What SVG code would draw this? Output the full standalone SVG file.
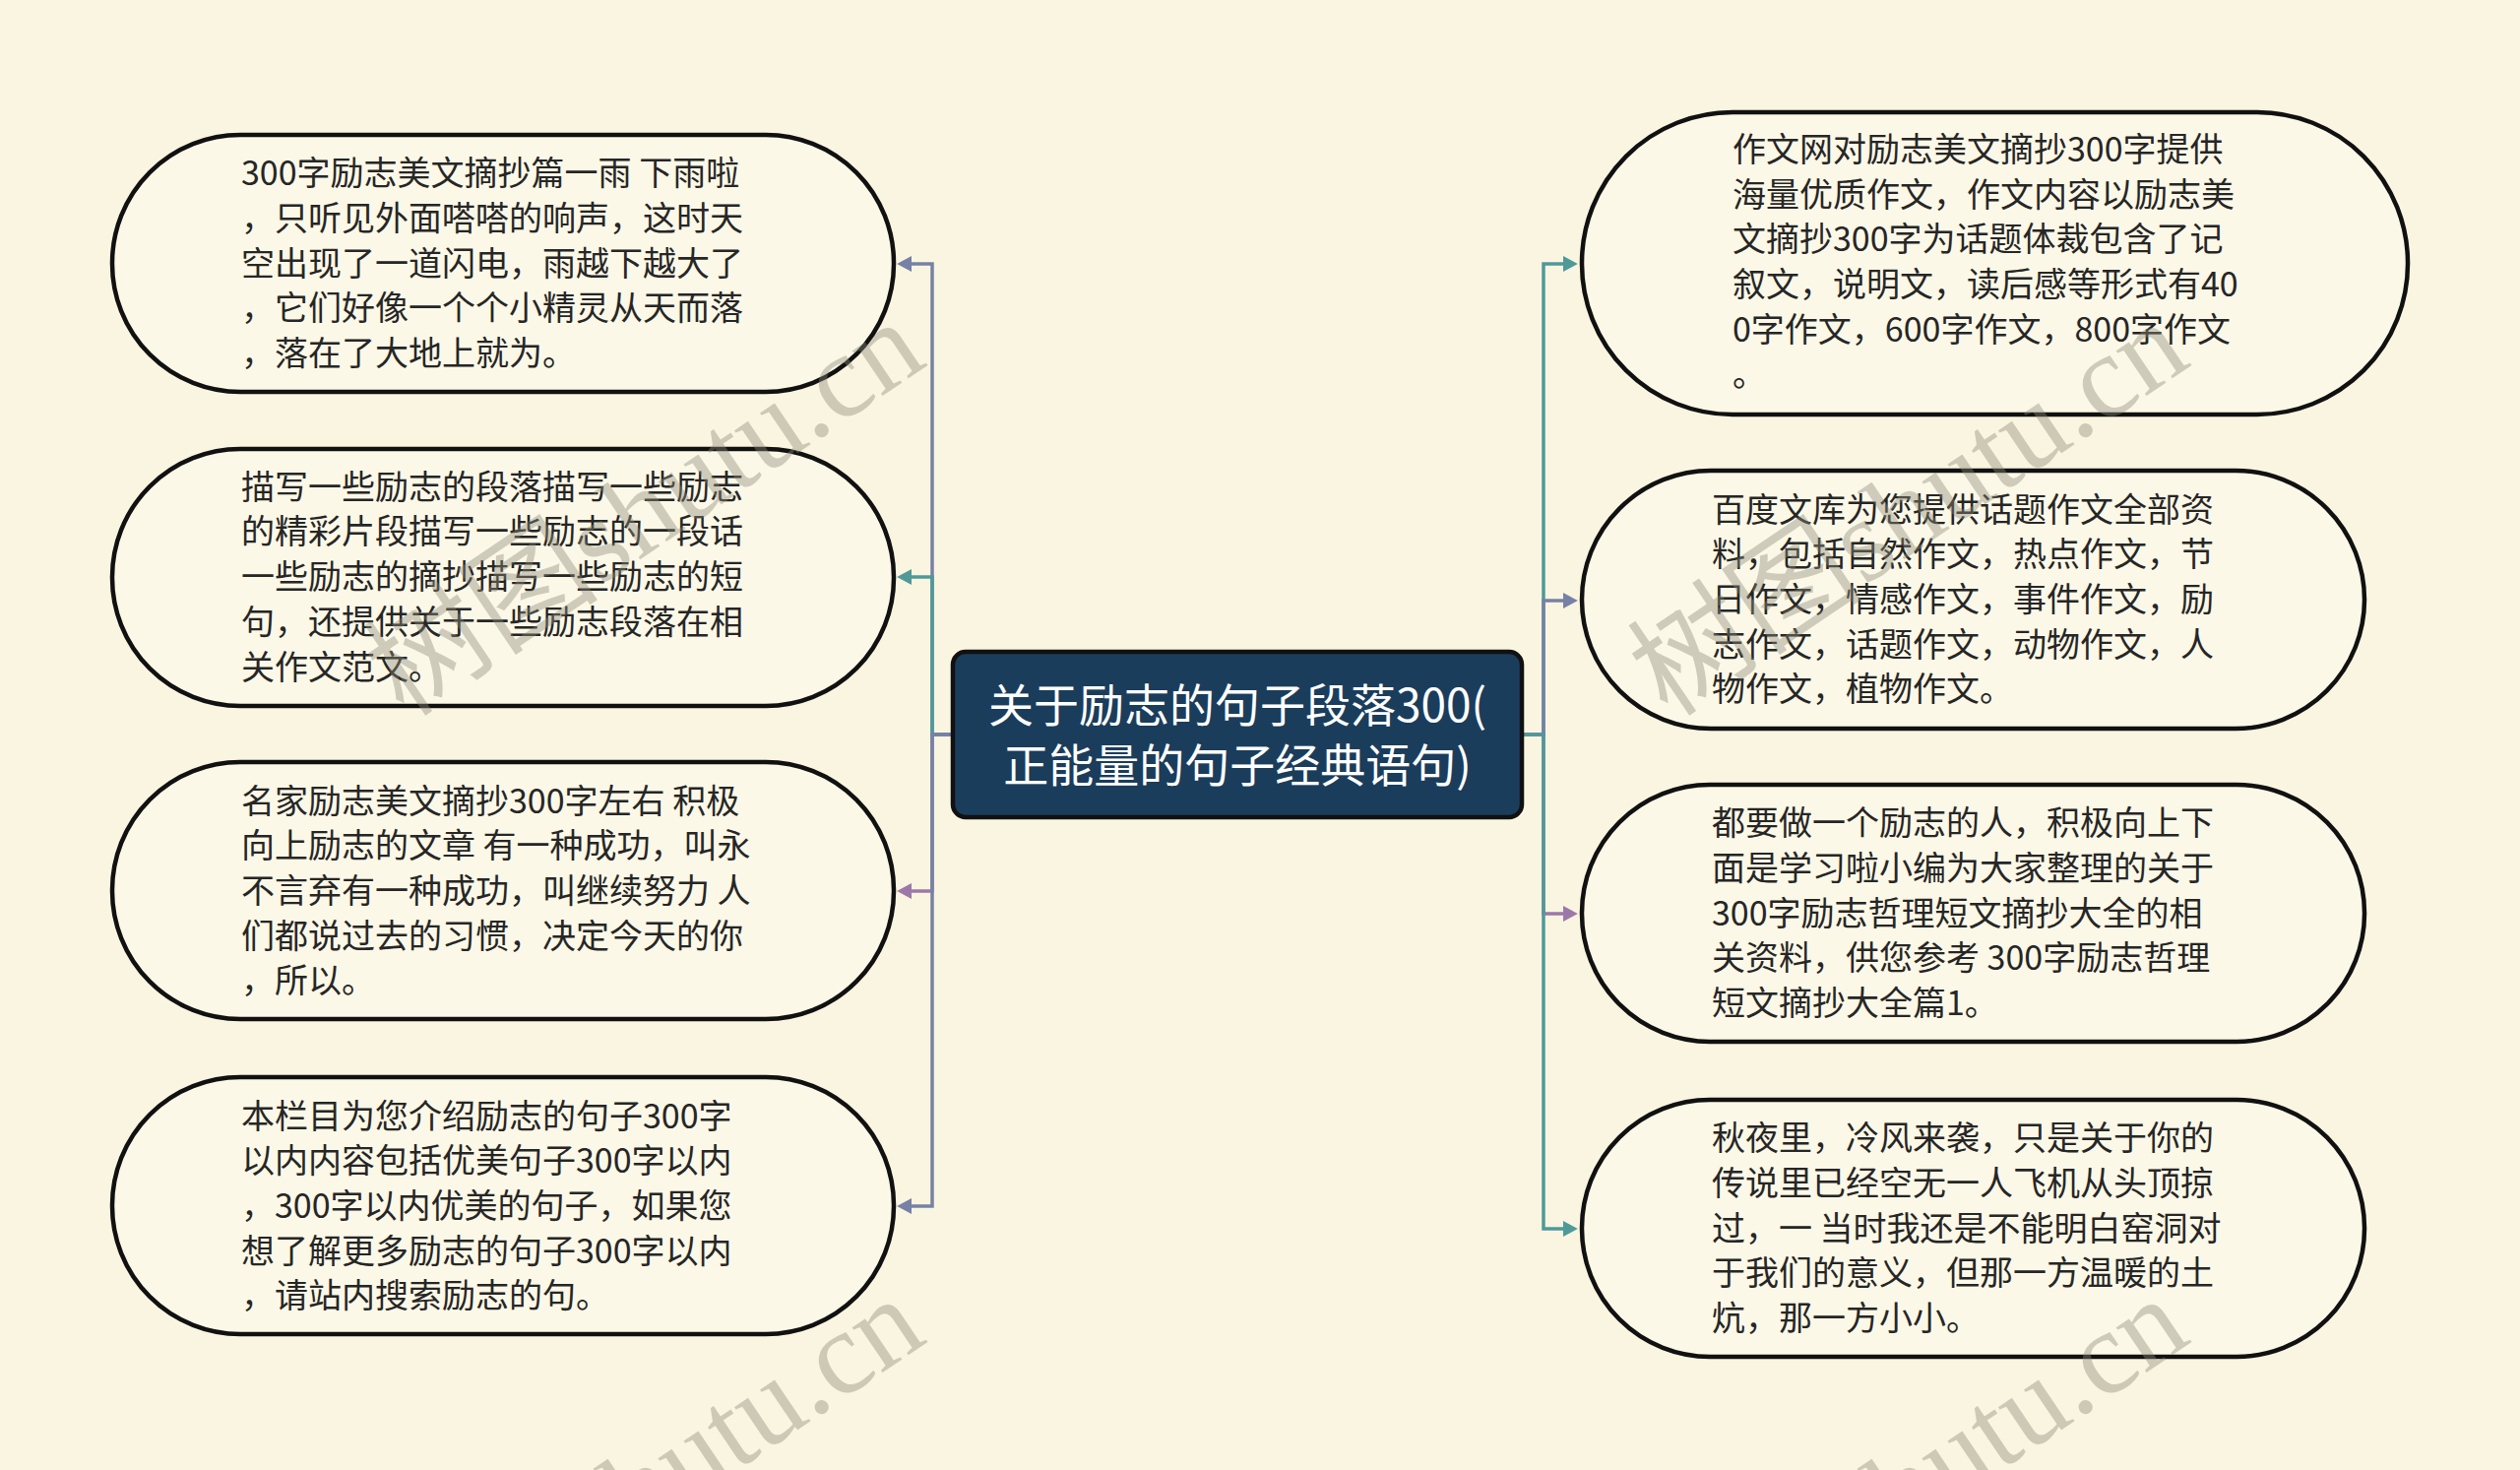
<svg xmlns="http://www.w3.org/2000/svg" width="2560" height="1493" viewBox="0 0 2560 1493">
<defs>
<style>
.bg{fill:#f9f5e1}
.node{fill:#fcf8e7;stroke:#111;stroke-width:4.5}
.root{fill:#1b3d5c;stroke:#111;stroke-width:4.5}
.t{font-family:"Noto Sans CJK SC","Noto Sans",sans-serif;font-size:34px;fill:#262626}
.rt{font-family:"Noto Sans CJK SC","Noto Sans",sans-serif;font-size:46px;fill:#ffffff;text-anchor:middle}
.c{fill:none;stroke-width:3.5}
.gb{stroke:#7682a5}
.tl{stroke:#4f9999}
.pu{stroke:#9c78a8}
.wm{font-family:"Liberation Serif","Noto Sans CJK SC",serif;font-size:120px;fill:#8c8a78;opacity:0.4;text-anchor:end}
</style>
<marker id="aGb" markerUnits="userSpaceOnUse" markerWidth="16" markerHeight="16" refX="0" refY="7" orient="auto" viewBox="0 0 14 14"><path d="M0,0 L13,7 L0,14 z" fill="#7682a5"/></marker>
<marker id="aTl" markerUnits="userSpaceOnUse" markerWidth="16" markerHeight="16" refX="0" refY="7" orient="auto" viewBox="0 0 14 14"><path d="M0,0 L13,7 L0,14 z" fill="#4f9999"/></marker>
<marker id="aPu" markerUnits="userSpaceOnUse" markerWidth="16" markerHeight="16" refX="0" refY="7" orient="auto" viewBox="0 0 14 14"><path d="M0,0 L13,7 L0,14 z" fill="#9c78a8"/></marker>
</defs>
<rect class="bg" x="0" y="0" width="2560" height="1493"/>

<g id="connectors">
<path class="c gb" d="M968 746 H947 V268 H926" marker-end="url(#aGb)"/>
<path class="c tl" d="M968 746 H947 V586 H926" marker-end="url(#aTl)"/>
<path class="c pu" d="M968 746 H947 V905 H926" marker-end="url(#aPu)"/>
<path class="c gb" d="M968 746 H947 V1225 H926" marker-end="url(#aGb)"/>
<path class="c tl" d="M1546 746 H1568 V268 H1588" marker-end="url(#aTl)"/>
<path class="c gb" d="M1546 746 H1568 V610 H1588" marker-end="url(#aGb)"/>
<path class="c pu" d="M1546 746 H1568 V928 H1588" marker-end="url(#aPu)"/>
<path class="c tl" d="M1546 746 H1568 V1248 H1588" marker-end="url(#aTl)"/>
</g>

<g id="root">
<rect class="root" x="968" y="662" width="578" height="168" rx="13"/>
<text class="rt"><tspan x="1257" y="733">关于励志的句子段落300(</tspan><tspan x="1257" y="794">正能量的句子经典语句)</tspan></text>
</g>

<g id="L1">
<rect class="node" x="114" y="137" width="794" height="261" rx="130" ry="130"/>
<text class="t"><tspan x="245" y="188">300字励志美文摘抄篇一雨 下雨啦</tspan><tspan x="245" y="234">，只听见外面嗒嗒的响声，这时天</tspan><tspan x="245" y="280">空出现了一道闪电，雨越下越大了</tspan><tspan x="245" y="325">，它们好像一个个小精灵从天而落</tspan><tspan x="245" y="371">，落在了大地上就为。</tspan></text>
</g>

<g id="L2">
<rect class="node" x="114" y="456" width="794" height="261" rx="130" ry="130"/>
<text class="t"><tspan x="245" y="507">描写一些励志的段落描写一些励志</tspan><tspan x="245" y="552">的精彩片段描写一些励志的一段话</tspan><tspan x="245" y="598">一些励志的摘抄描写一些励志的短</tspan><tspan x="245" y="644">句，还提供关于一些励志段落在相</tspan><tspan x="245" y="690">关作文范文。</tspan></text>
</g>

<g id="L3">
<rect class="node" x="114" y="774" width="794" height="261" rx="130" ry="130"/>
<text class="t"><tspan x="245" y="826">名家励志美文摘抄300字左右 积极</tspan><tspan x="245" y="871">向上励志的文章 有一种成功，叫永</tspan><tspan x="245" y="917">不言弃有一种成功，叫继续努力 人</tspan><tspan x="245" y="963">们都说过去的习惯，决定今天的你</tspan><tspan x="245" y="1008">，所以。</tspan></text>
</g>

<g id="L4">
<rect class="node" x="114" y="1094" width="794" height="261" rx="130" ry="130"/>
<text class="t"><tspan x="245" y="1146">本栏目为您介绍励志的句子300字</tspan><tspan x="245" y="1191">以内内容包括优美句子300字以内</tspan><tspan x="245" y="1237">，300字以内优美的句子，如果您</tspan><tspan x="245" y="1283">想了解更多励志的句子300字以内</tspan><tspan x="245" y="1328">，请站内搜索励志的句。</tspan></text>
</g>

<g id="R1">
<rect class="node" x="1607" y="114" width="839" height="307" rx="153" ry="153"/>
<text class="t"><tspan x="1760" y="164">作文网对励志美文摘抄300字提供</tspan><tspan x="1760" y="210">海量优质作文，作文内容以励志美</tspan><tspan x="1760" y="255">文摘抄300字为话题体裁包含了记</tspan><tspan x="1760" y="301">叙文，说明文，读后感等形式有40</tspan><tspan x="1760" y="347">0字作文，600字作文，800字作文</tspan><tspan x="1760" y="392">。</tspan></text>
</g>

<g id="R2">
<rect class="node" x="1607" y="478" width="795" height="262" rx="131" ry="131"/>
<text class="t"><tspan x="1739" y="530">百度文库为您提供话题作文全部资</tspan><tspan x="1739" y="575">料，包括自然作文，热点作文，节</tspan><tspan x="1739" y="621">日作文，情感作文，事件作文，励</tspan><tspan x="1739" y="667">志作文，话题作文，动物作文，人</tspan><tspan x="1739" y="712">物作文，植物作文。</tspan></text>
</g>

<g id="R3">
<rect class="node" x="1607" y="797" width="795" height="261" rx="130" ry="130"/>
<text class="t"><tspan x="1739" y="848">都要做一个励志的人，积极向上下</tspan><tspan x="1739" y="894">面是学习啦小编为大家整理的关于</tspan><tspan x="1739" y="940">300字励志哲理短文摘抄大全的相</tspan><tspan x="1739" y="985">关资料，供您参考 300字励志哲理</tspan><tspan x="1739" y="1031">短文摘抄大全篇1。</tspan></text>
</g>

<g id="R4">
<rect class="node" x="1607" y="1117" width="795" height="261" rx="130" ry="130"/>
<text class="t"><tspan x="1739" y="1168">秋夜里，冷风来袭，只是关于你的</tspan><tspan x="1739" y="1214">传说里已经空无一人飞机从头顶掠</tspan><tspan x="1739" y="1260">过，一 当时我还是不能明白窑洞对</tspan><tspan x="1739" y="1305">于我们的意义，但那一方温暖的土</tspan><tspan x="1739" y="1351">炕，那一方小小。</tspan></text>
</g>

<g id="watermarks">
<text class="wm" transform="translate(944 370) rotate(-34)">树图shutu.cn</text>
<text class="wm" transform="translate(2228 370) rotate(-34)">树图shutu.cn</text>
<text class="wm" transform="translate(944 1362) rotate(-34)">树图shutu.cn</text>
<text class="wm" transform="translate(2228 1362) rotate(-34)">树图shutu.cn</text>
</g>
</svg>
